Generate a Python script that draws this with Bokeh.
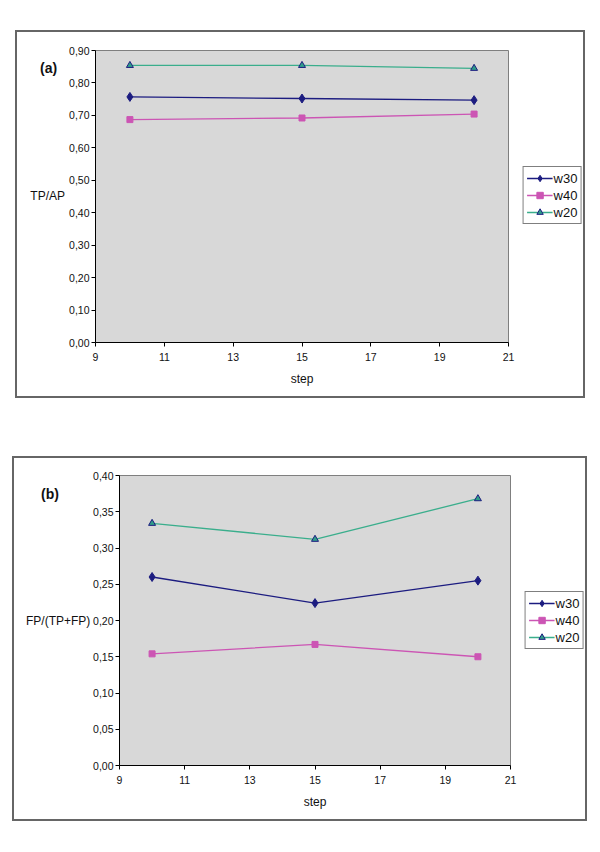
from bokeh.plotting import figure
from bokeh.layouts import column, row
from bokeh.models import (Range1d, FixedTicker, CustomJSTickFormatter,
                          Legend, LegendItem, Spacer, Div)
from bokeh.embed import file_html
from bokeh.resources import INLINE

# ---- data ----
steps = [10, 15, 20]
series_names = ["w30", "w40", "w20"]

a_w30 = [0.757, 0.752, 0.747]
a_w40 = [0.687, 0.692, 0.704]
a_w20 = [0.854, 0.854, 0.845]

b_w30 = [0.260, 0.224, 0.255]
b_w40 = [0.154, 0.167, 0.150]
b_w20 = [0.334, 0.312, 0.368]

x_ticks = [9, 11, 13, 15, 17, 19, 21]
a_y_ticks = [0.0, 0.1, 0.2, 0.3, 0.4, 0.5, 0.6, 0.7, 0.8, 0.9]
b_y_ticks = [0.0, 0.05, 0.10, 0.15, 0.20, 0.25, 0.30, 0.35, 0.40]

FONT = "Liberation Sans"
C_W30 = "#1c1c80"
C_W40 = "#cc55b4"
C_W20 = "#3aae8c"
C_W20_FILL = "#2f9e88"


def add_series(p, w30, w40, w20):
    l1 = p.line(steps, w30, line_color=C_W30, line_width=1.3)
    s1 = p.scatter(steps, w30, marker="diamond", size=9,
                   fill_color=C_W30, line_color=C_W30)
    l2 = p.line(steps, w40, line_color=C_W40, line_width=1.3)
    s2 = p.scatter(steps, w40, marker="square", size=6,
                   fill_color=C_W40, line_color=C_W40)
    l3 = p.line(steps, w20, line_color=C_W20, line_width=1.3)
    s3 = p.scatter(steps, w20, marker="triangle", size=7,
                   fill_color=C_W20_FILL, line_color=C_W30, line_width=1)
    return [(l1, s1), (l2, s2), (l3, s3)]


def make_plot(width, height, mt, mb, ymax, yticks, vals):
    p = figure(width=width, height=height,
               x_range=Range1d(9, 21), y_range=Range1d(0, ymax),
               output_backend="svg", toolbar_location=None,
               min_border_left=27, min_border_right=8,
               min_border_top=mt, min_border_bottom=mb,
               background_fill_color="#d8d8d8",
               border_fill_color="white")
    p.outline_line_color = "#7f7f7f"
    p.outline_line_width = 1
    p.xgrid.visible = False
    p.ygrid.visible = False

    p.xaxis.ticker = FixedTicker(ticks=x_ticks)
    p.yaxis.ticker = FixedTicker(ticks=yticks)
    p.yaxis.formatter = CustomJSTickFormatter(
        code="return tick.toFixed(2).replace('.', ',');")
    for ax in (p.xaxis, p.yaxis):
        ax.axis_line_color = "black"
        ax.major_tick_line_color = "black"
        ax.major_tick_in = 0
        ax.major_tick_out = 4
        ax.minor_tick_line_color = None
        ax.major_label_text_font = FONT
        ax.major_label_text_font_size = "10.5px"
        ax.major_label_text_color = "#111111"
    p.yaxis.major_label_standoff = 2
    p.xaxis.major_label_standoff = 6
    p.xaxis.axis_label = "step"
    p.xaxis.axis_label_text_font = FONT
    p.xaxis.axis_label_text_font_size = "12px"
    p.xaxis.axis_label_text_font_style = "normal"
    p.xaxis.axis_label_text_color = "#111111"
    p.xaxis.axis_label_standoff = 8
    add_series(p, *vals)
    return p


def make_legend_fig(vals):
    # small figure that only shows the legend; its series lie outside its
    # visible range, so only the legend swatches are seen
    lf = figure(width=60, height=60, x_range=Range1d(0, 1),
                y_range=Range1d(5, 6), output_backend="svg",
                toolbar_location=None, x_axis_location=None,
                y_axis_location=None, min_border=0,
                background_fill_color="white", border_fill_color="white")
    lf.outline_line_color = None
    lf.xgrid.visible = False
    lf.ygrid.visible = False
    pairs = add_series(lf, *vals)
    legend = Legend(items=[
        LegendItem(label=name, renderers=list(pair))
        for name, pair in zip(series_names, pairs)
    ], location="center")
    legend.border_line_color = "black"
    legend.border_line_width = 1
    legend.background_fill_color = "white"
    legend.background_fill_alpha = 1
    legend.label_text_font = FONT
    legend.label_text_font_size = "13px"
    legend.label_text_color = "#111111"
    legend.glyph_width = 26
    legend.glyph_height = 16
    legend.label_height = 16
    legend.label_standoff = 1
    legend.spacing = 1
    legend.padding = 3
    legend.margin = 0
    lf.add_layout(legend)
    return lf


def text_div(text, width, size, bold, align, pad_left, pad_right):
    return Div(text=text, width=width, height=16, margin=0,
               styles={"font-family": FONT, "font-size": size,
                       "font-weight": "bold" if bold else "normal",
                       "line-height": "16px", "text-align": align,
                       "padding-left": f"{pad_left}px",
                       "padding-right": f"{pad_right}px",
                       "white-space": "nowrap", "overflow": "visible",
                       "color": "#111111", "box-sizing": "border-box"})


def labels_col(width, height, tag, tag_top, tag_left, ylabel, ylabel_top,
               ylabel_align, ylabel_left, ylabel_right):
    return column(
        Spacer(height=tag_top, width=width),
        text_div(tag, width, "14px", True, "left", tag_left, 0),
        Spacer(height=ylabel_top - tag_top - 16, width=width),
        text_div(ylabel, width, "12px", False, ylabel_align,
                 ylabel_left, ylabel_right),
        Spacer(height=height - ylabel_top - 16, width=width),
        width=width, height=height,
    )


def legend_col(width, height, top, left, vals):
    return column(
        Spacer(height=top, width=width),
        row(Spacer(width=left, height=60), make_legend_fig(vals)),
        Spacer(height=height - top - 60, width=width),
        width=width, height=height,
    )


vals_a = (a_w30, a_w40, a_w20)
pa = make_plot(450, 364, 18, 54, 0.9, a_y_ticks, vals_a)
la = labels_col(49, 364, "(a)", 28, 23, "TP/AP", 156, "right", 0, 1)
ga = legend_col(67, 364, 133, 6, vals_a)
panel_a = row(la, pa, ga)
panel_a.styles = {"outline": "2px solid #666666"}

vals_b = (b_w30, b_w40, b_w20)
pb = make_plot(428, 361, 17, 54, 0.4, b_y_ticks, vals_b)
lb = labels_col(76, 361, "(b)", 28, 27, "FP/(TP+FP)", 155, "left", 12, 0)
gb = legend_col(67, 361, 132, 6, vals_b)
panel_b = row(lb, pb, gb)
panel_b.styles = {"outline": "2px solid #666666"}

layout = column(
    Spacer(height=32),
    row(Spacer(width=17), panel_a),
    Spacer(height=62),
    row(Spacer(width=14), panel_b),
)
open("out.html", "w").write(file_html(layout, INLINE))
